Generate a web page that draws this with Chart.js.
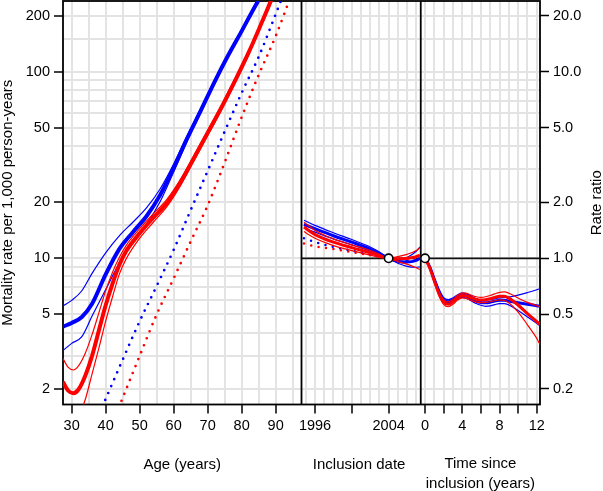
<!DOCTYPE html>
<html>
<head>
<meta charset="utf-8">
<script src="https://cdn.jsdelivr.net/npm/chart.js@4.4.1/dist/chart.umd.min.js"></script>
<style>
  html, body { margin: 0; padding: 0; background: #fff; }
  canvas { display: block; }
</style>
</head>
<body>
<canvas id="lexis" width="603" height="491"></canvas>
<script>
// --- age panel: mortality rate per 1,000 PY ---
const ageBlue    = [27.4, 30, 33, 36, 40, 44, 48, 52, 56, 60, 64, 68, 72, 76, 80, 84, 88, 92];
const blueRate   = [4.3, 4.5, 4.85, 5.7, 8.2, 11.2, 13.8, 16.8, 21.8, 30.5, 44, 62, 88, 122, 165, 225, 300, 400];
const blueRateHi = [5.55, 5.95, 6.7, 8.3, 10.7, 13.2, 15.6, 18.6, 23.5, 32, 45.5, 63.5, 90, 124.5, 168, 229, 305, 406];
const blueRateLo = [3.2, 3.5, 3.8, 4.9, 6.8, 9.4, 12.2, 15.2, 20.1, 29, 42.5, 60.5, 86, 119.5, 162, 221, 295, 394];
const ageRed     = [27.4, 29, 30.5, 32, 34, 36, 38, 40, 42, 44, 46, 50, 54, 58, 62, 66, 70, 74, 78, 82, 86, 90, 94];
const redRate    = [2.18, 1.95, 1.89, 1.98, 2.35, 3.0, 4.1, 5.6, 7.3, 9.2, 10.9, 13.6, 16.5, 19.8, 25.5, 34.5, 47, 64, 89, 126, 185, 275, 400];
const redRateHi  = [2.91, 2.6, 2.52, 2.65, 3.1, 3.9, 5.1, 6.7, 8.4, 10.1, 11.7, 14.4, 17.3, 20.7, 26.5, 35.7, 48.5, 66, 91.5, 129, 189, 281, 408];
const ageRedLo   = [32, 34, 36, 38, 40, 42, 44, 46, 50, 54, 58, 62, 66, 70, 74, 78, 82, 86, 90, 94];
const redRateLo  = [1.4, 1.75, 2.4, 3.3, 4.6, 6.2, 8.2, 9.9, 12.8, 15.6, 18.9, 24.5, 33.4, 45.5, 62, 86.5, 123, 181, 269, 392];
// population reference rates (dotted)
const ageBlueRef = [39, 45, 50, 55, 60, 65, 70, 75, 80, 85, 90, 94];
const blueRef    = [1.6, 2.86, 4.6, 7.1, 11.1, 18.1, 29.4, 47.8, 77, 120, 203, 314];
const ageRedRef  = [43, 50, 55, 60, 65, 70, 75, 80, 85, 90, 95];
const redRef     = [1.45, 3.0, 5.0, 7.8, 12.3, 19.2, 32.6, 57, 96, 155, 270];

// --- inclusion date panel: rate ratio ---
const dates       = [1994.8, 1996, 1998, 2000, 2002, 2003, 2004, 2005, 2006, 2007, 2007.4];
const blueDate    = [1.52, 1.44, 1.32, 1.22, 1.12, 1.06, 1.0, 0.965, 0.955, 0.975, 1.0];
const blueDateHi  = [1.6, 1.5, 1.37, 1.26, 1.15, 1.08, 1.0, 0.99, 1.01, 1.09, 1.15];
const blueDateLo  = [1.45, 1.38, 1.27, 1.18, 1.09, 1.04, 1.0, 0.94, 0.905, 0.895, 0.9];
const redDate     = [1.47, 1.34, 1.22, 1.14, 1.07, 1.03, 1.0, 0.99, 1.0, 1.02, 1.04];
const redDateHi   = [1.56, 1.41, 1.27, 1.18, 1.1, 1.05, 1.0, 1.02, 1.05, 1.1, 1.14];
const redDateLo   = [1.39, 1.28, 1.17, 1.1, 1.04, 1.01, 1.0, 0.96, 0.93, 0.89, 0.87];
const blueDateRef = [1.28, 1.22, 1.15, 1.1, 1.05, 1.025, 1.0, 0.975, 0.965, 0.97, 0.98];
const redDateRef  = [1.2, 1.16, 1.12, 1.08, 1.04, 1.02, 1.0, 0.985, 0.98, 0.99, 1.0];

// --- time since inclusion panel: rate ratio ---
const times      = [0, 0.5, 1, 1.5, 2, 2.5, 3, 3.5, 4, 4.5, 5, 5.5, 6, 6.5, 7, 7.5, 8, 8.5, 9, 10, 11, 12, 12.35];
const blueTime   = [1.0, 0.9, 0.77, 0.665, 0.6, 0.585, 0.598, 0.622, 0.635, 0.627, 0.607, 0.59, 0.58, 0.578, 0.582, 0.59, 0.595, 0.595, 0.59, 0.578, 0.567, 0.557, 0.554];
const blueTimeHi = [1.0, 0.91, 0.785, 0.68, 0.615, 0.6, 0.613, 0.638, 0.652, 0.645, 0.625, 0.608, 0.598, 0.597, 0.6, 0.607, 0.613, 0.617, 0.62, 0.635, 0.655, 0.678, 0.688];
const blueTimeLo = [1.0, 0.89, 0.755, 0.65, 0.585, 0.57, 0.583, 0.606, 0.618, 0.61, 0.59, 0.572, 0.56, 0.553, 0.556, 0.565, 0.572, 0.572, 0.562, 0.525, 0.485, 0.448, 0.435];
const redTime    = [1.0, 0.89, 0.755, 0.645, 0.583, 0.567, 0.585, 0.615, 0.632, 0.628, 0.613, 0.602, 0.598, 0.6, 0.607, 0.617, 0.625, 0.625, 0.612, 0.562, 0.505, 0.458, 0.443];
const redTimeHi  = [1.0, 0.9, 0.77, 0.66, 0.6, 0.585, 0.603, 0.633, 0.652, 0.648, 0.633, 0.622, 0.618, 0.622, 0.632, 0.645, 0.656, 0.66, 0.65, 0.612, 0.58, 0.558, 0.55];
const redTimeLo  = [1.0, 0.88, 0.74, 0.63, 0.566, 0.55, 0.567, 0.597, 0.613, 0.608, 0.593, 0.582, 0.578, 0.58, 0.585, 0.592, 0.598, 0.595, 0.577, 0.515, 0.44, 0.372, 0.345];

// reference points (ratio = 1)
const refDate = [2004];
const refTime = [0];
const refRatio = [1];

// axis ranges, ticks and grid
const ageRange  = [27.45, 97.6];
const dateRange = [1994.53, 2007.49];
const timeRange = [-0.46, 12.35];
const rateRange = [1.646, 239.2];
const ratioRange = [0.1646, 23.92];
const ageLabels  = [30, 40, 50, 60, 70, 80, 90];
const ageGrid    = [30, 35, 40, 45, 50, 55, 60, 65, 70, 75, 80, 85, 90, 95];
const dateLabels = [1996, 2004];
const dateMarks  = [1996, 2000, 2004];
const dateGrid   = [1995, 1996, 1997, 1998, 1999, 2000, 2001, 2002, 2003, 2004, 2005, 2006, 2007];
const timeLabels = [0, 4, 8, 12];
const timeMarks  = [0, 2, 4, 6, 8, 10, 12];
const timeGrid   = [0, 1, 2, 3, 4, 5, 6, 7, 8, 9, 10, 11, 12];
const rateLabels = [2, 5, 10, 20, 50, 100, 200];
const rateGrid   = [2, 3, 4, 5, 6, 7, 8, 9, 10, 15, 20, 30, 40, 50, 60, 70, 80, 90, 100, 150, 200];
const ratioLabels = [0.2, 0.5, 1, 2, 5, 10, 20];

const BLUE = '#0000ff', RED = '#ff0000';
const FONT = '"Liberation Sans", Arial, Helvetica, sans-serif';

function pts(xs, ys) { return xs.map((x, i) => ({ x: x, y: ys[i] })); }
function line(xs, ys, color, width, xAxis, order, dotted) {
  return {
    data: pts(xs, ys),
    xAxisID: xAxis,
    yAxisID: xAxis === 'xAge' ? 'yRate' : 'yRatio',
    borderColor: color,
    borderWidth: width,
    pointRadius: 0,
    fill: false,
    cubicInterpolationMode: 'monotone',
    borderDash: dotted ? [0, 7.5] : [],
    borderCapStyle: dotted ? 'round' : 'butt',
    order: order
  };
}
function marker(xs, xAxis) {
  return {
    data: pts(xs, refRatio),
    xAxisID: xAxis, yAxisID: 'yRatio',
    showLine: false,
    pointRadius: 4.2,
    pointBackgroundColor: '#fff',
    pointBorderColor: '#000',
    pointBorderWidth: 1.6,
    order: 0
  };
}

const datasets = [
  // age panel
  line(ageBlueRef, blueRef, BLUE, 2.7, 'xAge', 5, true),
  line(ageRedRef, redRef, RED, 2.7, 'xAge', 5, true),
  line(ageBlue, blueRateHi, BLUE, 1.2, 'xAge', 4),
  line(ageBlue, blueRateLo, BLUE, 1.2, 'xAge', 4),
  line(ageBlue, blueRate, BLUE, 4, 'xAge', 4),
  line(ageRed, redRateHi, RED, 1.2, 'xAge', 3),
  line(ageRedLo, redRateLo, RED, 1.2, 'xAge', 3),
  line(ageRed, redRate, RED, 4, 'xAge', 3),
  // inclusion date panel
  line(dateRange, [1, 1], '#111', 1.8, 'xDate', 10),
  line(dates, blueDateRef, BLUE, 2.5, 'xDate', 5, true),
  line(dates, redDateRef, RED, 2.5, 'xDate', 5, true),
  line(dates, blueDateHi, BLUE, 1.2, 'xDate', 4),
  line(dates, blueDateLo, BLUE, 1.2, 'xDate', 4),
  line(dates, blueDate, BLUE, 3, 'xDate', 4),
  line(dates, redDateHi, RED, 1.2, 'xDate', 3),
  line(dates, redDateLo, RED, 1.2, 'xDate', 3),
  line(dates, redDate, RED, 3, 'xDate', 3),
  // time since inclusion panel
  line(timeRange, [1, 1], '#111', 1.8, 'xTime', 10),
  line(times, blueTimeHi, BLUE, 1.2, 'xTime', 4),
  line(times, blueTimeLo, BLUE, 1.2, 'xTime', 4),
  line(times, blueTime, BLUE, 3, 'xTime', 4),
  line(times, redTimeHi, RED, 1.2, 'xTime', 3),
  line(times, redTimeLo, RED, 1.2, 'xTime', 3),
  line(times, redTime, RED, 3, 'xTime', 3),
  marker(refDate, 'xDate'),
  marker(refTime, 'xTime')
];

const GRID = '#e3e3e3';
const tickFont = { family: FONT, size: 14.5 };

// fixed box sizes so the plot area lands where the original has it
function fitY(s) { s.width = 63; s.paddingTop = 0; s.paddingBottom = 0; }
function fitX(s) { s.height = 86.5; s.paddingLeft = 0; s.paddingRight = 0; }

function xScale(range, weight, grid, marks, labels) {
  return {
    type: 'linear', position: 'bottom', stack: 'panels', stackWeight: weight,
    min: range[0], max: range[1], bounds: 'data',
    afterBuildTicks: s => { s.ticks = grid.map(v => ({ value: v })); },
    afterFit: fitX,
    border: { display: false },
    grid: {
      color: GRID, lineWidth: 2, tickLength: 9, tickWidth: 1.5,
      tickColor: c => marks.includes(c.tick.value) ? '#000' : 'rgba(0,0,0,0)'
    },
    ticks: {
      autoSkip: false, maxRotation: 0, padding: 4, color: '#000', font: tickFont,
      callback: v => labels.includes(v) ? String(v) : ''
    }
  };
}

const framePlugin = {
  id: 'frame',
  beforeDatasetsDraw(chart) {
    const { ctx, chartArea: a, scales } = chart;
    ctx.save();
    ctx.strokeStyle = '#000';
    ctx.lineWidth = 1.8;
    ctx.strokeRect(a.left, a.top, a.right - a.left, a.bottom - a.top);
    [scales.xDate.left, scales.xTime.left].forEach(x => {
      ctx.beginPath();
      ctx.moveTo(x, a.top);
      ctx.lineTo(x, a.bottom);
      ctx.stroke();
    });
    ctx.restore();
  }
};

const titlePlugin = {
  id: 'titles',
  afterDraw(chart) {
    const { ctx, chartArea: a, scales } = chart;
    const mid = s => (s.left + s.right) / 2;
    ctx.save();
    ctx.fillStyle = '#000';
    ctx.font = '15px ' + FONT;
    ctx.textAlign = 'center';
    ctx.textBaseline = 'middle';
    const yT = a.bottom + 60;
    ctx.fillText('Age (years)', mid(scales.xAge), yT);
    ctx.fillText('Inclusion date', mid(scales.xDate) - 2, yT);
    ctx.fillText('Time since', mid(scales.xTime), yT - 1);
    ctx.fillText('inclusion (years)', mid(scales.xTime), yT + 19);
    const yc = (a.top + a.bottom) / 2;
    [[8, 'Mortality rate per 1,000 person-years'], [597, 'Rate ratio']].forEach(([x, t]) => {
      ctx.save();
      ctx.translate(x, yc);
      ctx.rotate(-Math.PI / 2);
      ctx.fillText(t, 0, 0);
      ctx.restore();
    });
    ctx.restore();
  }
};

new Chart(document.getElementById('lexis').getContext('2d'), {
  type: 'line',
  data: { datasets: datasets },
  options: {
    responsive: false,
    animation: false,
    devicePixelRatio: 1,
    layout: { autoPadding: false, padding: { top: 1, left: 0, right: 0, bottom: 0 } },
    plugins: { legend: { display: false }, tooltip: { enabled: false } },
    scales: {
      xAge: xScale(ageRange, 2, ageGrid, ageLabels, ageLabels),
      xDate: xScale(dateRange, 1, dateGrid, dateMarks, dateLabels),
      xTime: xScale(timeRange, 1, timeGrid, timeMarks, timeLabels),
      yRate: {
        type: 'logarithmic', position: 'left',
        min: rateRange[0], max: rateRange[1], bounds: 'data',
        afterBuildTicks: s => { s.ticks = rateGrid.map(v => ({ value: v })); },
        afterFit: fitY,
        border: { display: false },
        grid: {
          color: GRID, lineWidth: 2, tickLength: 9, tickWidth: 1.5,
          tickColor: c => rateLabels.includes(c.tick.value) ? '#000' : 'rgba(0,0,0,0)'
        },
        ticks: {
          autoSkip: false, padding: 4, color: '#000', font: tickFont,
          callback: v => rateLabels.includes(v) ? String(v) : ''
        }
      },
      yRatio: {
        type: 'logarithmic', position: 'right',
        min: ratioRange[0], max: ratioRange[1], bounds: 'data',
        afterBuildTicks: s => { s.ticks = ratioLabels.map(v => ({ value: v })); },
        afterFit: fitY,
        border: { display: false },
        grid: { drawOnChartArea: false, tickLength: 9, tickWidth: 1.5, tickColor: '#000' },
        ticks: {
          autoSkip: false, padding: 4, color: '#000', font: tickFont,
          callback: v => v.toFixed(1)
        }
      }
    }
  },
  plugins: [framePlugin, titlePlugin]
});
</script>
</body>
</html>
